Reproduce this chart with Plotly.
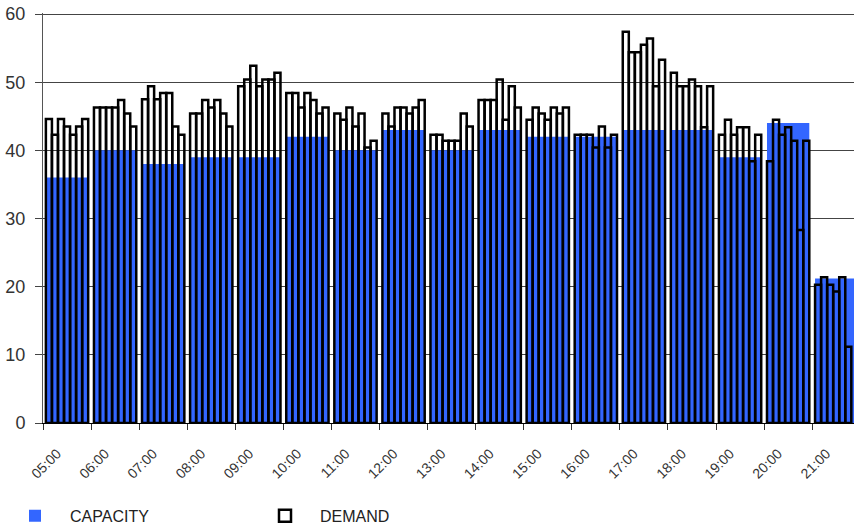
import plotly.graph_objects as go

hours = ["05:00", "06:00", "07:00", "08:00", "09:00", "10:00", "11:00", "12:00",
         "13:00", "14:00", "15:00", "16:00", "17:00", "18:00", "19:00", "20:00", "21:00"]

capacity = [36, 40, 38, 39, 39, 42, 40, 43, 40, 43, 42, 42, 43, 43, 39, 44, 21.2]

# demand per hour, 7 slots each
d05 = [44.6, 42.3, 44.6, 43.5, 42.3, 43.5, 44.6]
d06 = [46.3, 46.3, 46.3, 46.3, 47.4, 45.4, 43.5]
d07 = [47.5, 49.4, 47.5, 48.4, 48.4, 43.5, 42.3]
d08 = [45.4, 45.4, 47.4, 46.3, 47.4, 45.4, 43.5]
d09 = [49.4, 50.4, 52.4, 49.4, 50.4, 50.4, 51.4]
d10 = [48.4, 48.4, 46.3, 48.4, 47.4, 45.4, 46.3]
d11 = [45.4, 44.5, 46.3, 43.5, 45.4, 40.4, 41.4]
d12 = [45.4, 43.5, 46.3, 46.3, 45.4, 46.3, 47.4]
d13 = [42.3, 42.3, 41.4, 41.4, 41.4, 45.4, 43.5]
d14 = [47.4, 47.4, 47.4, 50.4, 44.5, 49.4, 46.3]
d15 = [44.5, 46.3, 45.4, 44.5, 46.3, 45.4, 46.3]
d16 = [42.3, 42.3, 42.3, 40.4, 43.5, 40.4, 42.3]
d17 = [57.4, 54.4, 54.4, 55.5, 56.4, 49.4, 53.3]
d18 = [51.4, 49.4, 49.4, 50.4, 49.4, 43.4, 49.4]
d19 = [42.3, 44.5, 42.3, 43.4, 43.4, 38.4, 42.3]
d20 = [38.4, 44.5, 42.3, 43.4, 41.4, 28.3, 41.4]
d21 = [20.3, 21.4, 20.3, 19.3, 21.4, 11.2, None]

demand_by_hour = [d05, d06, d07, d08, d09, d10, d11, d12, d13, d14, d15, d16,
                  d17, d18, d19, d20, d21]
n_slots = 7

FONT = "Liberation Sans, Arial, sans-serif"
BLUE = "#3366FF"

group_w = 0.88
slot_w = group_w / n_slots

fig = go.Figure()
fig.add_trace(go.Bar(
    x=hours, y=capacity, name="CAPACITY", width=group_w,
    marker=dict(color=BLUE, line=dict(width=0)),
))
for i in range(n_slots):
    fig.add_trace(go.Bar(
        x=hours, y=[d[i] for d in demand_by_hour],
        name="DEMAND", legendgroup="demand", showlegend=(i == 0),
        width=slot_w, offset=-group_w / 2 + i * slot_w,
        marker=dict(color="rgba(0,0,0,0)", line=dict(color="black", width=2.5)),
    ))

fig.update_layout(
    width=854, height=529,
    margin=dict(l=43, r=0, t=13, b=106),
    barmode="overlay",
    plot_bgcolor="white", paper_bgcolor="white",
    font=dict(family=FONT, color="#222"),
    showlegend=True,
    legend=dict(
        orientation="h", xref="container", yref="container",
        x=0.0, y=0.057, xanchor="left", yanchor="top",
        font=dict(size=16, family=FONT, color="#222"),
        itemwidth=60,
        entrywidth=175, entrywidthmode="pixels",
        traceorder="normal",
    ),
    xaxis=dict(
        type="category", categoryorder="array", categoryarray=hours,
        tickson="boundaries", ticks="outside", ticklen=6, tickcolor="#333",
        showline=True, linecolor="black", linewidth=1,
        showgrid=False, range=[-0.5, 16.37], automargin=False,
        tickangle=-45, tickfont=dict(size=14, family=FONT, color="#333"),
        ticklabelshift=-10, ticklabelstandoff=16,
    ),
    yaxis=dict(
        range=[0, 60.15], dtick=10, tick0=0, automargin=False,
        showgrid=True, gridcolor="#444", gridwidth=1,
        showline=True, linecolor="#555", linewidth=1,
        ticks="outside", ticklen=7, tickcolor="#444",
        tickfont=dict(size=18, family=FONT, color="#333"),
        ticklabelstandoff=6,
        zeroline=False,
    ),
)

fig.write_html("out.html", config={"displayModeBar": False},
               post_script="document.body.style.margin='0';")
